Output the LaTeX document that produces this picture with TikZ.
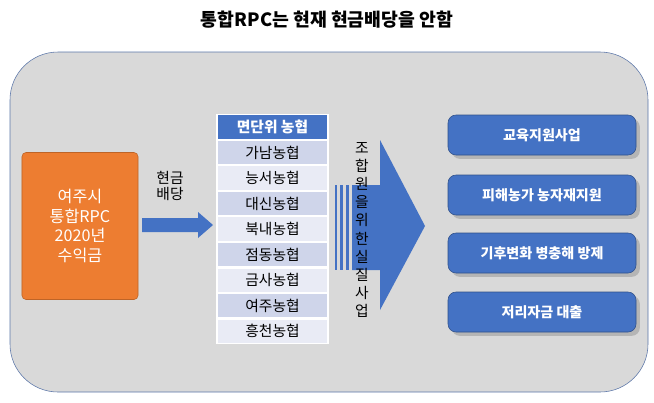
\documentclass[tikz,border=0pt]{standalone}
\usepackage{fontspec}
\setmainfont{Noto Sans CJK KR}
\usetikzlibrary{positioning,shadows}
\definecolor{panelgray}{HTML}{D9D9D9}
\definecolor{accblue}{HTML}{4472C4}
\definecolor{rowdark}{HTML}{CFD5EA}
\definecolor{rowlight}{HTML}{E9EBF5}
\definecolor{incorange}{HTML}{ED7D31}
\begin{document}
\begin{tikzpicture}
    [
    x=0.25mm,y=-0.25mm,
    row/.style={draw=white,line width=0.8pt,minimum width=27.75mm,minimum height=6.1mm,inner sep=0pt,font=\fontsize{10.5}{11}\selectfont},
    task/.style={fill=accblue,draw=accblue!70!black,rounded corners=2mm,minimum width=47mm,minimum height=10mm,text=white,font=\bfseries\fontsize{10}{11}\selectfont,drop shadow={opacity=0.4}},
    ]
    \useasboundingbox (0,0) rectangle (654,402);
    \fill[white] (0,0) rectangle (654,402);
    \node (title) at (327,20) {\bfseries\fontsize{13}{15}\selectfont 통합RPC는 현재 현금배당을 안함};
    \draw[accblue!60!gray,fill=panelgray,rounded corners=12mm] (10,52) rectangle (648,392);
    % left: income
    \node (income) at (80,226) [fill=incorange,draw=incorange!80!black,rounded corners=1mm,minimum width=29mm,minimum height=36.75mm,text=white,align=center,font=\fontsize{11.5}{14}\selectfont] {여주시\\통합RPC\\2020년\\수익금};
    \node (cash) at (170,186) [align=center,font=\fontsize{10.5}{12}\selectfont] {현금\\배당};
    \fill[accblue] (142,218) -- (198,218) -- (198,212) -- (213,225) -- (198,238) -- (198,232) -- (142,232) -- cycle;
    % table of local cooperatives
    \node (head) at (272.5,127) [row,fill=accblue,text=white,font=\bfseries\fontsize{10.5}{11}\selectfont] {면단위 농협};
    \node (r1) [row,fill=rowdark,below=0pt of head] {가남농협};
    \node (r2) [row,fill=rowlight,below=0pt of r1] {능서농협};
    \node (r3) [row,fill=rowdark,below=0pt of r2] {대신농협};
    \node (r4) [row,fill=rowlight,below=0pt of r3] {북내농협};
    \node (r5) [row,fill=rowdark,below=0pt of r4] {점동농협};
    \node (r6) [row,fill=rowlight,below=0pt of r5] {금사농협};
    \node (r7) [row,fill=rowdark,below=0pt of r6] {여주농협};
    \node (r8) [row,fill=rowlight,below=0pt of r7] {흥천농협};
    % big striped arrow
    \fill[accblue] (335,185) rectangle (337,270);
    \fill[accblue] (340,185) rectangle (343,270);
    \fill[accblue] (346,185) rectangle (349,270);
    \fill[accblue] (352,185) -- (380,185) -- (380,140) -- (425,226) -- (380,310) -- (380,270) -- (352,270) -- cycle;
    \node (purpose) at (362,230) [align=center,inner sep=0pt,font=\fontsize{10.5}{12.9}\selectfont] {조\\합\\원\\을\\위\\한\\실\\질\\사\\업};
    % tasks
    \node (t1) at (542,135) [task] {교육지원사업};
    \node (t2) at (542,195) [task] {피해농가 농자재지원};
    \node (t3) at (542,253) [task] {기후변화 병충해 방제};
    \node (t4) at (542,312) [task] {저리자금 대출};
  \end{tikzpicture}
\end{document}
